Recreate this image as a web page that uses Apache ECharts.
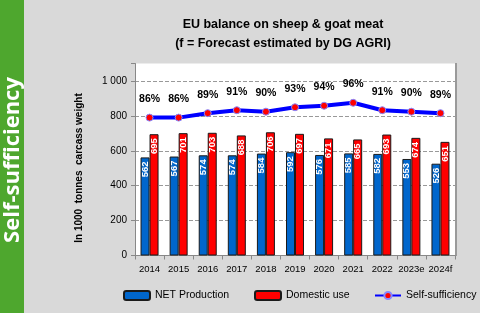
<!DOCTYPE html>
<html>
<head>
<meta charset="utf-8">
<script src="https://cdn.jsdelivr.net/npm/echarts@6/dist/echarts.min.js"></script>
<style>
  html, body { margin: 0; padding: 0; background: #d9d9d9; }
  #box { width: 480px; height: 313px; }
</style>
</head>
<body>
<div id="box"></div>
<script>
var years = ['2014', '2015', '2016', '2017', '2018', '2019', '2020', '2021', '2022', '2023e', '2024f'];
var netProduction = [562, 567, 574, 574, 584, 592, 576, 585, 582, 553, 526];
var domesticUse = [695, 701, 703, 688, 706, 697, 671, 665, 693, 674, 651];
var selfSufficiency = [86, 86, 89, 91, 90, 93, 94, 96, 91, 90, 89];
var yTicks = [0, 200, 400, 600, 800, 1000];

var font = 'Liberation Sans';
var chart = echarts.init(document.getElementById('box'));

// white text inside the bars, turned upright
function barLabel() {
    return {
        show: true,
        position: 'insideTop',
        distance: 4,
        rotate: 90,
        align: 'right',
        verticalAlign: 'middle',
        color: '#fff',
        fontFamily: font,
        fontSize: 9.5,
        fontWeight: 'bold'
    };
}

function legendAt(x, name) {
    return {
        left: x,
        top: 285,
        itemWidth: 26,
        itemHeight: 9,
        textStyle: { fontFamily: font, fontSize: 10.5, color: '#000' },
        data: [name]
    };
}

var option = {
    backgroundColor: '#d9d9d9',
    animation: false,
    title: {
        text: 'EU balance on sheep & goat meat\n(f = Forecast estimated by DG AGRI)',
        left: 278,
        top: 10,
        textAlign: 'center',
        textStyle: { fontFamily: font, fontSize: 12.5, fontWeight: 'bold', color: '#000', lineHeight: 19 }
    },
    graphic: [
        { type: 'rect', left: 0, top: 0, shape: { width: 24, height: 313 }, style: { fill: '#4ea72e' } },
        {
            type: 'text', x: 13, y: 160, rotation: Math.PI / 2,
            style: {
                text: 'Self-sufficiency', fill: '#fff', font: 'bold 22px "Open Sans"',
                align: 'center', verticalAlign: 'middle'
            }
        },
        {
            type: 'text', x: 79, y: 168, rotation: Math.PI / 2,
            style: {
                text: 'In 1000  tonnes  carcass weight', fill: '#000', font: 'bold 10px "Liberation Sans"',
                align: 'center', verticalAlign: 'middle'
            }
        },
        { type: 'rect', left: 455, top: 63, shape: { width: 2, height: 193 }, style: { fill: '#9a9a9a' } }
    ],
    legend: [
        legendAt(118, 'NET Production'),
        legendAt(249, 'Domestic use'),
        legendAt(369, 'Self-sufficiency')
    ],
    grid: {
        left: 135, right: 25, top: 63.5, bottom: 57.5,
        show: true, backgroundColor: '#fff', borderWidth: 0
    },
    xAxis: {
        type: 'category',
        data: years,
        axisLine: { lineStyle: { color: '#888' } },
        axisTick: { show: true, length: 4, lineStyle: { color: '#888' } },
        axisLabel: { interval: 0, color: '#000', fontFamily: font, fontSize: 9.5, margin: 9 }
    },
    yAxis: [{
        type: 'value',
        min: 0,
        max: 1100,
        interval: 200,
        axisLine: { show: true, lineStyle: { color: '#888' } },
        axisTick: { show: true, length: 4, lineStyle: { color: '#888' } },
        splitLine: { show: true, showMaxLine: false, lineStyle: { color: '#999', type: 'dashed' } },
        axisLabel: {
            color: '#000', fontFamily: font, fontSize: 10, margin: 8,
            formatter: function (v) {
                if (yTicks.indexOf(v) < 0) return '';
                return v >= 1000 ? '1 000' : String(v);
            }
        }
    }, {
        type: 'value',
        min: -7,
        max: 122.5,
        show: false,
        splitLine: { show: false }
    }],
    series: [{
        name: 'NET Production',
        type: 'bar',
        data: netProduction,
        barWidth: 9,
        barGap: '0%',
        itemStyle: { color: '#0066cc', borderColor: '#1a1a1a', borderWidth: 1 },
        label: barLabel()
    }, {
        name: 'Domestic use',
        type: 'bar',
        data: domesticUse,
        barWidth: 9,
        itemStyle: { color: '#ff0000', borderColor: '#1a1a1a', borderWidth: 1 },
        label: barLabel()
    }, {
        name: 'Self-sufficiency',
        type: 'line',
        yAxisIndex: 1,
        data: selfSufficiency,
        symbol: 'circle',
        symbolSize: 7,
        lineStyle: { color: '#0000ff', width: 4 },
        itemStyle: { color: '#ff0000', borderColor: '#8888ff', borderWidth: 1 },
        label: {
            show: true,
            position: 'top',
            distance: 9,
            formatter: '{c}%',
            color: '#000',
            fontFamily: font,
            fontSize: 10.5,
            fontWeight: 'bold'
        },
        z: 5
    }]
};
chart.setOption(option);
</script>
</body>
</html>
